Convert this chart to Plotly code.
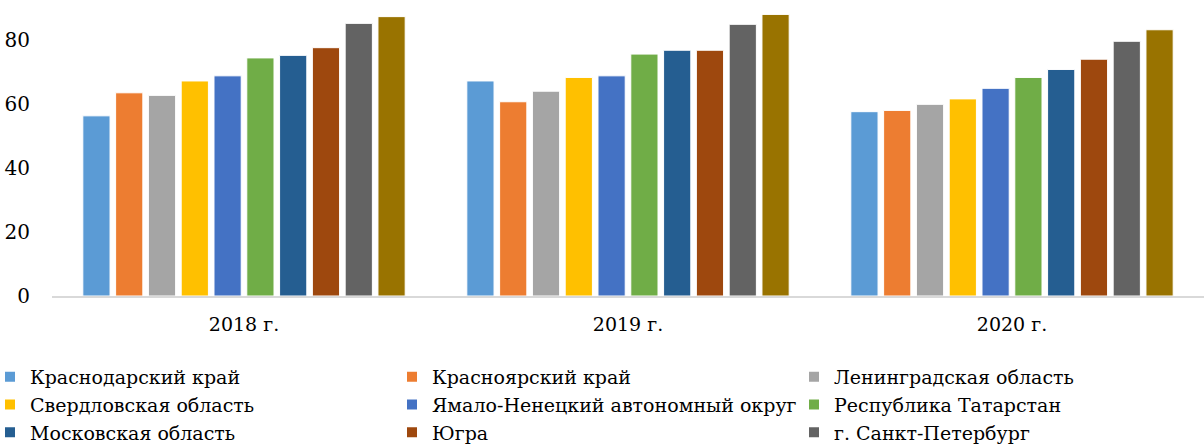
import plotly.graph_objects as go

years = ["2018 г.", "2019 г.", "2020 г."]
regions = [
    "Краснодарский край",
    "Красноярский край",
    "Ленинградская область",
    "Свердловская область",
    "Ямало-Ненецкий автономный округ",
    "Республика Татарстан",
    "Московская область",
    "Югра",
    "г. Санкт-Петербург",
    "г. Москва",
]
colors = ["#5B9BD5", "#ED7D31", "#A5A5A5", "#FFC000", "#4472C4",
          "#70AD47", "#255E91", "#9E480E", "#636363", "#997300"]
values = [
    [56.3, 67.2, 57.6],
    [63.5, 60.7, 58.0],
    [62.7, 64.0, 59.9],
    [67.2, 68.3, 61.6],
    [68.8, 68.8, 64.9],
    [74.4, 75.6, 68.3],
    [75.2, 76.8, 70.8],
    [77.6, 76.8, 74.0],
    [85.2, 84.9, 79.6],
    [87.3, 88.0, 83.2],
]

fig = go.Figure()
for i, (name, col, vals) in enumerate(zip(regions, colors, values)):
    fig.add_trace(go.Bar(
        x=years, y=vals, name=name,
        marker=dict(color=col, line=dict(color="white", width=1)),
        showlegend=(i < 9),
    ))

FONT = "DejaVu Serif"
fig.update_layout(
    width=1204, height=446,
    margin=dict(l=52, r=0, t=0, b=150, autoexpand=False),
    barmode="group", bargap=0.146, bargroupgap=0.17,
    plot_bgcolor="white", paper_bgcolor="white",
    font=dict(family=FONT, size=20, color="#000000"),
    xaxis=dict(showline=True, linecolor="#D9D9D9", linewidth=2,
               tickfont=dict(size=19, family=FONT), ticks="outside", ticklen=10,
               tickcolor="rgba(0,0,0,0)"),
    yaxis=dict(range=[0, 92.5], tickvals=[0, 20, 40, 60, 80],
               showgrid=False, zeroline=False, showline=False,
               tickfont=dict(size=20, family=FONT), ticks="outside", ticklen=17,
               tickcolor="rgba(0,0,0,0)"),
    legend=dict(orientation="h",
                x=-62 / 1152, y=-62 / 296, xanchor="left", yanchor="top",
                entrywidth=357, entrywidthmode="pixels",
                font=dict(size=19, family=FONT), traceorder="normal",
                itemsizing="constant"),
)
fig.write_html("out.html")
